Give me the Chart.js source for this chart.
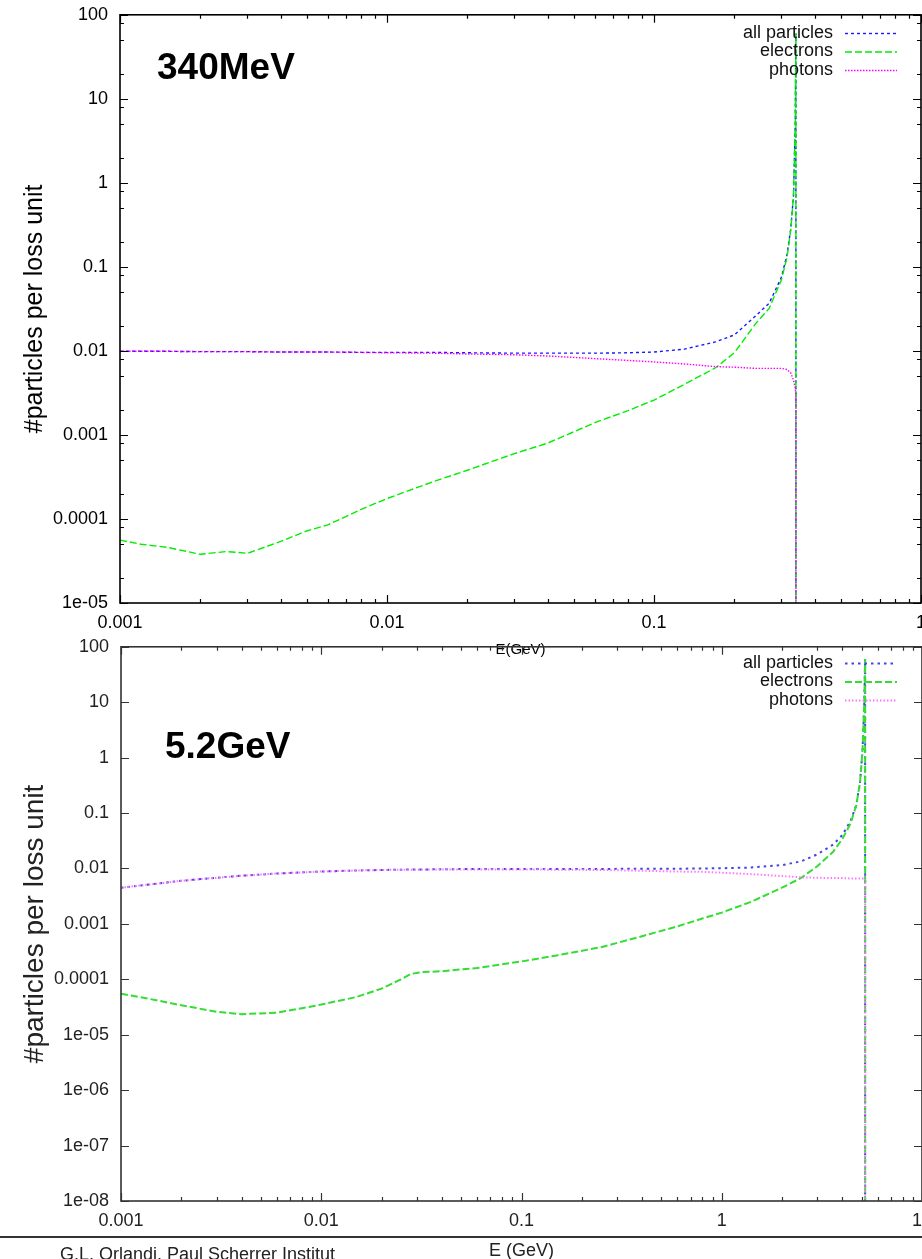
<!DOCTYPE html>
<html>
<head>
<meta charset="utf-8">
<script src="https://cdn.jsdelivr.net/npm/chart.js@4.4.1/dist/chart.umd.min.js"></script>
<style>
  html, body { margin: 0; padding: 0; background: #fff; }
  body { width: 922px; height: 1259px; overflow: hidden; position: relative; font-family: "Liberation Sans", Arial, sans-serif; }
  canvas { position: absolute; left: 0; }
  #topChart { top: -8px; }
  #bottomChart { top: 624px; }
  #rule { position: absolute; left: 0; top: 1236px; width: 922px; height: 2px; background: #333; }
  #footer { position: absolute; left: 60px; top: 1244px; font-size: 18px; color: #222; white-space: nowrap; }
</style>
</head>
<body>
<canvas id="topChart" width="960" height="678"></canvas>
<canvas id="bottomChart" width="960" height="639"></canvas>
<div id="rule"></div>
<div id="footer">G.L. Orlandi, Paul Scherrer Institut</div>
<script>
// ---- data: 340 MeV beam ----
const energy340 = [0.001, 0.0012, 0.0015, 0.002, 0.0025, 0.003, 0.004, 0.005, 0.006, 0.008,
  0.01, 0.015, 0.02, 0.03, 0.04, 0.06, 0.08, 0.1, 0.13, 0.17,
  0.2, 0.24, 0.27, 0.3, 0.315, 0.325, 0.333, 0.338, 0.34, 0.34];
const all340 = [0.0099, 0.0099, 0.0099, 0.0098, 0.0098, 0.0098, 0.0097, 0.0097, 0.0097, 0.0096,
  0.0096, 0.0096, 0.0095, 0.0094, 0.0094, 0.0094, 0.0095, 0.0097, 0.0105, 0.0128,
  0.0155, 0.026, 0.037, 0.075, 0.14, 0.28, 0.7, 5, 60, 1e-5];
const electrons340 = [5.6e-5, 5.0e-5, 4.6e-5, 3.8e-5, 4.1e-5, 3.9e-5, 5.4e-5, 7.2e-5, 8.5e-5, 1.3e-4,
  1.75e-4, 2.8e-4, 3.8e-4, 6.0e-4, 8.0e-4, 1.4e-3, 1.95e-3, 2.6e-3, 4.0e-3, 6.3e-3,
  9.5e-3, 0.021, 0.032, 0.07, 0.13, 0.27, 0.7, 5, 60, 1e-5];
const photons340 = [0.0099, 0.0099, 0.0099, 0.0098, 0.0098, 0.0098, 0.0097, 0.0097, 0.0097, 0.0096,
  0.0095, 0.0094, 0.0092, 0.009, 0.0087, 0.0081, 0.0077, 0.0074, 0.007, 0.0065,
  0.0064, 0.0062, 0.0062, 0.0062, 0.006, 0.0055, 0.0045, 0.0036, 0.003, 1e-5];

// ---- data: 5.2 GeV beam ----
const energy52 = [0.001, 0.0015, 0.002, 0.003, 0.004, 0.006, 0.008, 0.01, 0.015, 0.02,
  0.025, 0.028, 0.032, 0.04, 0.06, 0.1, 0.15, 0.25, 0.4, 0.6,
  0.8, 1, 1.4, 2, 2.5, 3, 3.6, 4, 4.4, 4.7,
  4.9, 5.05, 5.15, 5.2, 5.2];
const all52 = [0.0045, 0.0053, 0.006, 0.0068, 0.0074, 0.0081, 0.0085, 0.0088, 0.0092, 0.0094,
  0.0095, 0.0096, 0.0096, 0.0097, 0.0098, 0.0098, 0.0098, 0.0098, 0.0099, 0.0099,
  0.01, 0.0101, 0.0104, 0.0115, 0.0135, 0.018, 0.027, 0.04, 0.072, 0.14,
  0.35, 1.4, 10, 60, 1e-8];
const electrons52 = [5.5e-5, 4.2e-5, 3.4e-5, 2.6e-5, 2.35e-5, 2.5e-5, 3.0e-5, 3.5e-5, 4.8e-5, 6.8e-5,
  1.0e-4, 1.25e-4, 1.35e-4, 1.4e-4, 1.6e-4, 2.1e-4, 2.7e-4, 3.8e-4, 6.0e-4, 9.0e-4,
  1.25e-3, 1.6e-3, 2.5e-3, 4.5e-3, 6.8e-3, 0.011, 0.02, 0.034, 0.065, 0.14,
  0.35, 1.4, 10, 60, 1e-8];
const photons52 = [0.0045, 0.0053, 0.006, 0.0068, 0.0074, 0.0081, 0.0085, 0.0088, 0.0092, 0.0094,
  0.0095, 0.0095, 0.0095, 0.0096, 0.0096, 0.0096, 0.0095, 0.0094, 0.0091, 0.0088,
  0.0087, 0.0084, 0.0079, 0.0073, 0.0069, 0.0068, 0.0067, 0.0067, 0.0066, 0.0066,
  0.0066, 0.0066, 0.0066, 0.0066, 1e-8];

const seriesLabels = ['all particles', 'electrons', 'photons'];

// ---- ticks ----
const xTicks340 = [0.001, 0.01, 0.1, 1];
const xTickLabels340 = ['0.001', '0.01', '0.1', '1'];
const yTicks340 = [1e-5, 1e-4, 1e-3, 0.01, 0.1, 1, 10, 100];
const yTickLabels340 = ['1e-05', '0.0001', '0.001', '0.01', '0.1', '1', '10', '100'];
const xTicks52 = [0.001, 0.01, 0.1, 1, 10];
const xTickLabels52 = ['0.001', '0.01', '0.1', '1', '10'];
const yTicks52 = [1e-8, 1e-7, 1e-6, 1e-5, 1e-4, 1e-3, 0.01, 0.1, 1, 10, 100];
const yTickLabels52 = ['1e-08', '1e-07', '1e-06', '1e-05', '0.0001', '0.001', '0.01', '0.1', '1', '10', '100'];

const FONT = '"Liberation Sans", Arial, sans-serif';

// gnuplot-like frame with inward ticks on all four sides
const framePlugin = {
  id: 'frame',
  afterDatasetsDraw(chart, args, o) {
    const {ctx, chartArea: a, scales: {x, y}} = chart;
    ctx.save();
    ctx.strokeStyle = o.color;
    ctx.lineWidth = o.width;
    ctx.strokeRect(a.left, a.top, a.right - a.left, a.bottom - a.top);
    ctx.lineWidth = 1.2;
    ctx.beginPath();
    const each = (scale, minors, fn) => {
      for (let d = scale.min; d < scale.max * 1.0001; d *= 10) {
        fn(d, o.major);
        minors.forEach(m => { if (d * m < scale.max) fn(d * m, o.minor); });
      }
    };
    each(x, o.xMinor, (v, len) => {
      const p = Math.round(x.getPixelForValue(v)) + 0.5;
      ctx.moveTo(p, a.bottom); ctx.lineTo(p, a.bottom - len);
      ctx.moveTo(p, a.top); ctx.lineTo(p, a.top + len);
    });
    each(y, o.yMinor, (v, len) => {
      const p = Math.round(y.getPixelForValue(v)) + 0.5;
      ctx.moveTo(a.left, p); ctx.lineTo(a.left + len, p);
      ctx.moveTo(a.right, p); ctx.lineTo(a.right - len, p);
    });
    ctx.stroke();
    ctx.restore();
  }
};

// right-aligned key with line samples, as gnuplot draws it
const keyPlugin = {
  id: 'key',
  afterDraw(chart, args, o) {
    const {ctx} = chart;
    ctx.save();
    ctx.font = o.font;
    ctx.textAlign = 'right';
    ctx.textBaseline = 'middle';
    chart.data.datasets.forEach((ds, i) => {
      const yy = o.top + i * o.row;
      ctx.fillStyle = o.color;
      ctx.fillText(ds.label, o.textX, yy);
      ctx.strokeStyle = ds.borderColor;
      ctx.lineWidth = ds.borderWidth;
      ctx.setLineDash(ds.borderDash);
      ctx.beginPath();
      ctx.moveTo(o.x1, yy + 0.5);
      ctx.lineTo(o.x2, yy + 0.5);
      ctx.stroke();
    });
    ctx.restore();
  }
};

const labelPlugin = {
  id: 'beamLabel',
  afterDraw(chart, args, o) {
    const {ctx} = chart;
    ctx.save();
    ctx.font = o.font;
    ctx.fillStyle = '#000';
    ctx.textAlign = 'left';
    ctx.textBaseline = 'middle';
    ctx.fillText(o.text, o.x, o.y);
    ctx.restore();
  }
};

function makeChart(id, cfg) {
  const toPts = arr => arr.map((v, i) => ({x: cfg.energy[i], y: v}));
  const series = [cfg.all, cfg.electrons, cfg.photons];
  const datasets = series.map((arr, i) => ({
    label: seriesLabels[i],
    data: toPts(arr),
    borderColor: cfg.colors[i],
    borderDash: cfg.dashes[i],
    borderWidth: cfg.lineWidth,
    pointRadius: 0,
    fill: false,
    tension: 0,
    order: 2 - i
  }));
  const canvas = document.getElementById(id);
  return new Chart(canvas.getContext('2d'), {
    type: 'line',
    data: {datasets: datasets},
    plugins: [framePlugin, keyPlugin, labelPlugin],
    options: {
      responsive: false,
      animation: false,
      events: [],
      layout: {padding: {top: 6, right: canvas.width - cfg.right, left: 0, bottom: 0}},
      plugins: {
        legend: {display: false},
        tooltip: {enabled: false},
        frame: {color: cfg.frameColor, width: 1.6, major: 8, minor: 4, xMinor: [2, 3, 4, 5, 6, 7, 8, 9], yMinor: cfg.yMinor},
        key: {font: '18px ' + FONT, color: '#111', textX: 833, x1: 845, x2: 897, top: cfg.keyTop, row: 18.5},
        beamLabel: {text: cfg.title, font: 'bold 37px ' + FONT, x: cfg.titleX, y: cfg.titleY}
      },
      scales: {
        x: {
          type: 'logarithmic',
          min: cfg.xTicks[0],
          max: cfg.xTicks[cfg.xTicks.length - 1],
          grid: {display: false, drawTicks: false},
          border: {display: false},
          afterBuildTicks: s => { s.ticks = cfg.xTicks.map(v => ({value: v})); },
          afterFit: s => { s.height = cfg.xAxisHeight; },
          ticks: {
            autoSkip: false, maxRotation: 0, padding: 9,
            color: cfg.textColor, font: {family: FONT, size: 18},
            callback: (v, i) => cfg.xLabels[i]
          },
          title: {
            display: true, text: cfg.xTitle, color: cfg.textColor,
            font: {family: FONT, size: cfg.xTitleSize}, padding: {top: 0, bottom: cfg.xTitlePad}
          }
        },
        y: {
          type: 'logarithmic',
          min: cfg.yTicks[0],
          max: cfg.yTicks[cfg.yTicks.length - 1],
          grid: {display: false, drawTicks: false},
          border: {display: false},
          afterBuildTicks: s => { s.ticks = cfg.yTicks.map(v => ({value: v})); },
          afterFit: s => { s.width = cfg.left; },
          ticks: {
            autoSkip: false, padding: 12,
            color: cfg.textColor, font: {family: FONT, size: 18},
            callback: (v, i) => cfg.yLabels[i]
          },
          title: {
            display: true, text: '#particles per loss unit', color: cfg.textColor,
            font: {family: FONT, size: cfg.yTitleSize}, padding: {top: cfg.yTitlePad, bottom: 0}
          }
        }
      }
    }
  });
}

makeChart('topChart', {
  energy: energy340, all: all340, electrons: electrons340, photons: photons340,
  colors: ['#1a1aff', '#00ee00', '#ff00ff'],
  dashes: [[3, 3], [7, 3], [1.5, 1.5]],
  lineWidth: 1.4,
  xTicks: xTicks340, xLabels: xTickLabels340, yTicks: yTicks340, yLabels: yTickLabels340,
  yMinor: [2, 5, 8],
  left: 120, right: 921, xAxisHeight: 67,
  xTitle: 'E(GeV)', xTitleSize: 15, xTitlePad: 11,
  yTitleSize: 25, yTitlePad: 20,
  frameColor: '#000', textColor: '#000',
  keyTop: 41, title: '340MeV', titleX: 157, titleY: 77
});

makeChart('bottomChart', {
  energy: energy52, all: all52, electrons: electrons52, photons: photons52,
  colors: ['#4545e0', '#33dd33', '#ff77ff'],
  dashes: [[2.5, 4], [7, 3], [1.5, 2]],
  lineWidth: 2,
  xTicks: xTicks52, xLabels: xTickLabels52, yTicks: yTicks52, yLabels: yTickLabels52,
  yMinor: [],
  left: 121, right: 922, xAxisHeight: 62,
  xTitle: 'E (GeV)', xTitleSize: 18, xTitlePad: 1,
  yTitleSize: 28, yTitlePad: 18,
  frameColor: '#333', textColor: '#222',
  keyTop: 39, title: '5.2GeV', titleX: 165, titleY: 124
});
</script>
</body>
</html>
